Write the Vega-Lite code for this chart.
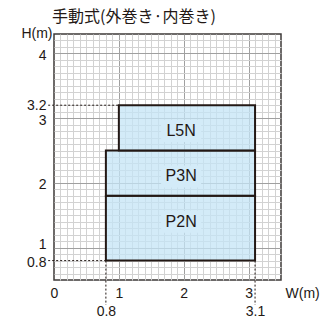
{
  "$schema": "https://vega.github.io/schema/vega-lite/v6.json",
  "width": 227,
  "height": 246,
  "autosize": {"type": "none"},
  "padding": {"left": 54, "top": 34, "right": 39, "bottom": 43},
  "background": "white",
  "title": {
    "text": "手動式(外巻き·内巻き)",
    "anchor": "start",
    "frame": "group",
    "font": "Noto Sans CJK JP",
    "fontSize": 16,
    "fontWeight": "normal",
    "color": "#231815",
    "baseline": "alphabetic",
    "offset": 11,
    "dx": -2,
    "dy": 23
  },
  "config": {
    "view": {"stroke": "#3e3a39", "strokeWidth": 1.5}
  },
  "encoding": {
    "x": {
      "field": "x",
      "type": "quantitative",
      "scale": {"domain": [0, 3.5], "nice": false, "zero": false},
      "axis": {
        "values": [0,0.1,0.2,0.3,0.4,0.5,0.6,0.7,0.8,0.9,1,1.1,1.2,1.3,1.4,1.5,1.6,1.7,1.8,1.9,2,2.1,2.2,2.3,2.4,2.5,2.6,2.7,2.8,2.9,3,3.1,3.2,3.3,3.4,3.5],
        "domain": false,
        "ticks": false,
        "tickSize": 0,
        "grid": true,
        "gridWidth": 1,
        "gridColor": {"condition": {"test": "datum.value % 1 === 0", "value": "#a0a0a0"}, "value": "#d2d2d2"},
        "gridOpacity": {"condition": {"test": "datum.value === 0 || datum.value === 3.5", "value": 0}, "value": 1},
        "labelExpr": "indexof([0,1,2,3,0.8,3.1], datum.value) >= 0 ? format(datum.value, '~g') : ''",
        "labelBaseline": "middle",
        "labelPadding": {"condition": {"test": "datum.value === 0.8 || datum.value === 3.1", "value": 31}, "value": 13},
        "labelFont": "Liberation Sans",
        "labelFontSize": 14,
        "labelColor": "#231815",
        "labelOverlap": false,
        "labelBound": false,
        "labelFlush": false,
        "title": "W(m)",
        "titleFont": "Liberation Sans",
        "titleFontSize": 14,
        "titleFontWeight": "normal",
        "titleColor": "#231815",
        "titleAlign": "left",
        "titleBaseline": "middle",
        "titleAngle": 0,
        "titleX": 231,
        "titleY": 13
      }
    },
    "y": {
      "field": "y",
      "type": "quantitative",
      "scale": {"domain": [0.5, 4.3], "nice": false, "zero": false},
      "axis": {
        "values": [0.5,0.6,0.7,0.8,0.9,1,1.1,1.2,1.3,1.4,1.5,1.6,1.7,1.8,1.9,2,2.1,2.2,2.3,2.4,2.5,2.6,2.7,2.8,2.9,3,3.1,3.2,3.3,3.4,3.5,3.6,3.7,3.8,3.9,4,4.1,4.2,4.3],
        "domain": false,
        "ticks": false,
        "tickSize": 0,
        "grid": true,
        "gridWidth": 1,
        "gridColor": {"condition": {"test": "datum.value % 1 === 0", "value": "#a0a0a0"}, "value": "#d2d2d2"},
        "gridOpacity": {"condition": {"test": "datum.value === 0.5 || datum.value === 4.3", "value": 0}, "value": 1},
        "labelExpr": "indexof([4,3.2,3,2,1,0.8], datum.value) >= 0 ? format(datum.value, '~g') : ''",
        "labelPadding": 8,
        "labelOffset": {"condition": [{"test": "datum.value === 1", "value": -3}, {"test": "datum.value === 3.2", "value": 0}], "value": 2},
        "labelFont": "Liberation Sans",
        "labelFontSize": 14,
        "labelColor": "#231815",
        "labelOverlap": false,
        "labelBound": false,
        "labelFlush": false,
        "title": "H(m)",
        "titleFont": "Liberation Sans",
        "titleFontSize": 14,
        "titleFontWeight": "normal",
        "titleColor": "#231815",
        "titleAngle": 0,
        "titleAlign": "right",
        "titleBaseline": "middle",
        "titleX": -2,
        "titleY": -1
      }
    }
  },
  "layer": [
    {
      "data": {"values": [
        {"model": "P2N", "x": 0.8, "x2": 3.1, "y": 0.8, "y2": 1.8},
        {"model": "P3N", "x": 0.8, "x2": 3.1, "y": 1.8, "y2": 2.5},
        {"model": "L5N", "x": 1.0, "x2": 3.1, "y": 2.5, "y2": 3.2}
      ]},
      "mark": {"type": "rect", "fill": "#c4e4f6", "fillOpacity": 0.75, "stroke": "#231815", "strokeWidth": 2},
      "encoding": {"x2": {"field": "x2"}, "y2": {"field": "y2"}}
    },
    {
      "data": {"values": [
        {"x": -0.09, "x2": 1.0, "y": 3.2, "y2": 3.2},
        {"x": -0.09, "x2": 0.8, "y": 0.8, "y2": 0.8},
        {"x": 0.8, "x2": 0.8, "y": 0.8, "y2": 0.114},
        {"x": 3.1, "x2": 3.1, "y": 0.8, "y2": 0.114}
      ]},
      "mark": {"type": "rule", "color": "#231815", "strokeWidth": 1, "strokeDash": [2, 2]},
      "encoding": {"x2": {"field": "x2"}, "y2": {"field": "y2"}}
    },
    {
      "data": {"values": [
        {"label": "L5N", "x": 1.96, "y": 2.8},
        {"label": "P3N", "x": 1.96, "y": 2.1},
        {"label": "P2N", "x": 1.96, "y": 1.4}
      ]},
      "layer": [
        {
          "mark": {"type": "point", "shape": "M-1,-0.55H1V0.55H-1Z", "size": 1600, "filled": true, "fill": "#d3ebf8", "opacity": 1, "strokeWidth": 0}
        },
        {
          "mark": {"type": "text", "font": "Liberation Sans", "fontSize": 16, "color": "#231815", "align": "center", "baseline": "middle"},
          "encoding": {"text": {"field": "label"}}
        }
      ]
    }
  ]
}
